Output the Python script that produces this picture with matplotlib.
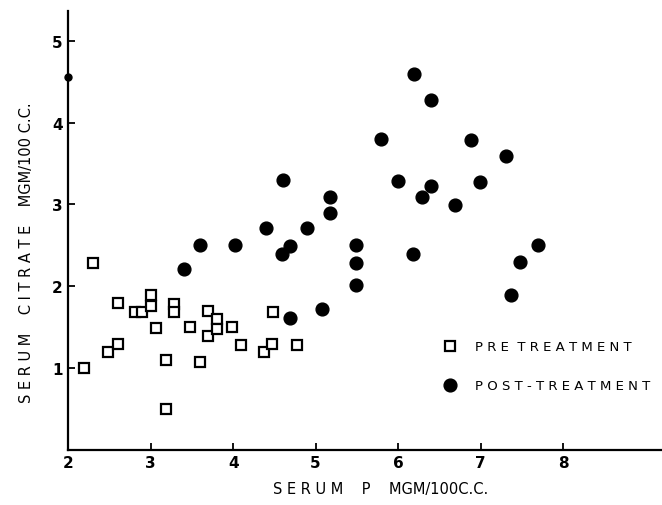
import numpy as np
from matplotlib import pyplot as plt
import matplotlib as mpl

mpl.rcParams['font.family'] = 'DejaVu Sans'

# pre treatment (open squares)
pre_p = [2.19, 2.30, 2.48, 2.60, 2.60, 2.81, 2.90, 3.00, 3.00, 3.07, 3.19, 3.19, 3.28,
         3.28, 3.48, 3.60, 3.69, 3.70, 3.81, 3.81, 3.99, 4.09, 4.38, 4.47, 4.48, 4.78]
pre_cit = [1.00, 2.28, 1.20, 1.30, 1.80, 1.69, 1.69, 1.89, 1.76, 1.49, 1.10, 0.50, 1.78,
           1.69, 1.50, 1.08, 1.39, 1.70, 1.60, 1.48, 1.50, 1.28, 1.20, 1.29, 1.69, 1.28]

# post treatment (filled circles)
post_p = [3.40, 3.60, 4.02, 4.40, 4.60, 4.59, 4.69, 4.90, 5.18, 5.17, 4.69, 5.08,
          6.19, 6.40, 5.79, 6.89, 7.31, 6.00, 6.40, 6.29, 6.99, 6.69, 5.49, 6.18,
          7.70, 5.49, 5.49, 7.48, 7.37]
post_cit = [2.21, 2.50, 2.50, 2.71, 3.30, 2.40, 2.49, 2.71, 3.09, 2.90, 1.61, 1.72,
            4.59, 4.28, 3.80, 3.79, 3.59, 3.29, 3.22, 3.09, 3.28, 2.99, 2.50, 2.39,
            2.50, 2.29, 2.02, 2.30, 1.89]

# small dot sitting on the y axis in the scan
axis_p = [2.00]
axis_cit = [4.56]

xticks = [2, 3, 4, 5, 6, 7, 8]
yticks = [1, 2, 3, 4, 5]


def spaced(s, gap=' '):
    # old typewriter-ish letter spacing
    return '  '.join(gap.join(w) for w in s.split(' '))


plt.close('all')
fig = plt.figure(figsize=(6.62, 5.06), dpi=100)
ax = fig.add_axes([0.103, 0.109, 0.897, 0.868])

ax.plot(pre_p, pre_cit, 's', markersize=7, markerfacecolor='white',
        markeredgecolor='black', markeredgewidth=1.6, linestyle='none',
        label=spaced('PRE TREATMENT'), clip_on=False)
ax.plot(post_p, post_cit, 'o', markersize=9.2, color='black', linestyle='none',
        label=spaced('POST-TREATMENT'), clip_on=False)
ax.plot(axis_p, axis_cit, 'o', markersize=5, color='black', linestyle='none',
        clip_on=False)

ax.set_xlim(2, 9.2)
ax.set_ylim(0, 5.37)
ax.set_xticks(xticks)
ax.set_yticks(yticks)
for sp in ['top', 'right']:
    ax.spines[sp].set_visible(False)
for sp in ['left', 'bottom']:
    ax.spines[sp].set_linewidth(1.6)
ax.tick_params(direction='in', length=5, width=1.3, labelsize=11, pad=4)
for lab in ax.get_xticklabels() + ax.get_yticklabels():
    lab.set_fontweight('bold')

fig.text(0.575, 0.032, spaced('SERUM') + '    P    ' + 'MGM/100C.C.',
         ha='center', va='center', fontsize=10.5)
fig.text(0.04, 0.50, spaced('SERUM') + '    ' + spaced('CITRATE') + '    ' + 'MGM/100 C.C.',
         ha='center', va='center', rotation=90, fontsize=10.5)

ax.legend(loc='upper left', bbox_to_anchor=(0.612, 0.276), frameon=False,
          fontsize=9.5, labelspacing=1.95, handletextpad=1.4, handlelength=1.0,
          numpoints=1)

plt.savefig('out.png', dpi=100)
